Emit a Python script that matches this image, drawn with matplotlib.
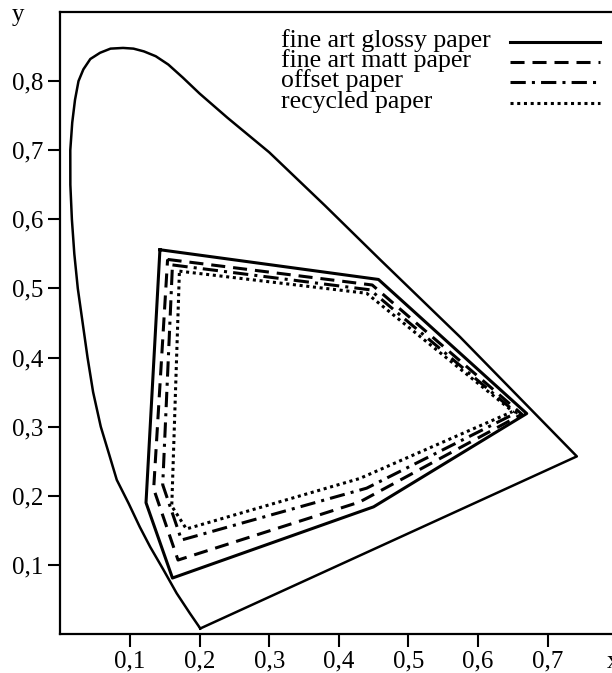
import numpy as np
from matplotlib import pyplot as plt
from matplotlib.lines import Line2D

# spectral locus, closed by the purple line
locus_x = [0.201, 0.186, 0.167, 0.148, 0.129, 0.114, 0.098, 0.081, 0.070, 0.058,
           0.047, 0.039, 0.032, 0.025, 0.020, 0.0165, 0.0143, 0.0142, 0.017, 0.021,
           0.026, 0.033, 0.043, 0.057, 0.072, 0.090, 0.105, 0.120, 0.137, 0.155,
           0.176, 0.200, 0.240, 0.300, 0.380, 0.459, 0.574, 0.742, 0.201]
locus_y = [0.008, 0.030, 0.059, 0.093, 0.126, 0.155, 0.189, 0.223, 0.260, 0.300,
           0.350, 0.400, 0.450, 0.500, 0.550, 0.600, 0.650, 0.700, 0.740, 0.773,
           0.800, 0.817, 0.832, 0.841, 0.847, 0.848, 0.847, 0.843, 0.836, 0.824,
           0.805, 0.782, 0.747, 0.697, 0.620, 0.542, 0.430, 0.257, 0.008]

# gamut corners
glossy_x = [0.143, 0.457, 0.670, 0.450, 0.161, 0.123]
glossy_y = [0.556, 0.513, 0.319, 0.184, 0.081, 0.190]
matt_x = [0.154, 0.448, 0.663, 0.430, 0.169, 0.134]
matt_y = [0.542, 0.505, 0.318, 0.191, 0.107, 0.210]
offset_x = [0.161, 0.445, 0.655, 0.440, 0.174, 0.147]
offset_y = [0.534, 0.498, 0.320, 0.211, 0.136, 0.216]
recycled_x = [0.171, 0.440, 0.650, 0.430, 0.181, 0.160]
recycled_y = [0.525, 0.493, 0.322, 0.225, 0.152, 0.185]

labels = ['fine art glossy paper', 'fine art matt paper', 'offset paper', 'recycled paper']

xticks = [0.1, 0.2, 0.3, 0.4, 0.5, 0.6, 0.7]
xtick_labels = ['0,1', '0,2', '0,3', '0,4', '0,5', '0,6', '0,7']
yticks = [0.1, 0.2, 0.3, 0.4, 0.5, 0.6, 0.7, 0.8]
ytick_labels = ['0,1', '0,2', '0,3', '0,4', '0,5', '0,6', '0,7', '0,8']

plt.rcParams['font.family'] = ['Liberation Serif', 'DejaVu Serif']

W, H = 612, 673
fig = plt.figure(figsize=(W / 100, H / 100), dpi=100)
ax = fig.add_axes([60.4 / W, 39 / H, 0.8 * 696 / W, 622 / H])
ax.set_xlim(0, 0.8)
ax.set_ylim(0, 0.9)

for s in ax.spines.values():
    s.set_linewidth(1.6)
ax.tick_params(direction='out', length=9, width=1.5, labelsize=18, pad=3,
               top=False, right=False)
ax.set_xticks(xticks)
ax.set_xticklabels(xtick_labels)
ax.set_yticks(yticks)
ax.set_yticklabels(ytick_labels)

ax.plot(locus_x, locus_y, color='black', lw=1.8, solid_joinstyle='round')

styles = ['-', (0, (4.6, 2.6)), (0, (5, 2, 1, 2)), (0, (1, 1.2))]
gamuts = [(glossy_x, glossy_y), (matt_x, matt_y), (offset_x, offset_y), (recycled_x, recycled_y)]
for (gx, gy), ls in zip(gamuts, styles):
    ax.plot(np.append(gx, gx[0]), np.append(gy, gy[0]), color='black', lw=2.2, ls=ls)

# legend: text on the left, line sample on the right
for i, (label, ls) in enumerate(zip(labels, styles)):
    base = 46.5 + 20.4 * i
    fig.text(281 / W, 1 - base / H, label, fontsize=18.5, va='baseline')
    yl = 1 - (41.5 + 20.4 * i) / H
    fig.add_artist(Line2D([510 / W, 600 / W], [yl, yl], transform=fig.transFigure,
                          color='black', lw=2.2, ls=ls))

fig.text(12 / W, 1 - 21 / H, 'y', fontsize=18, va='baseline')
fig.text(607 / W, 1 - 668 / H, 'x', fontsize=18, va='baseline')

fig.savefig('out.png', dpi=100)
